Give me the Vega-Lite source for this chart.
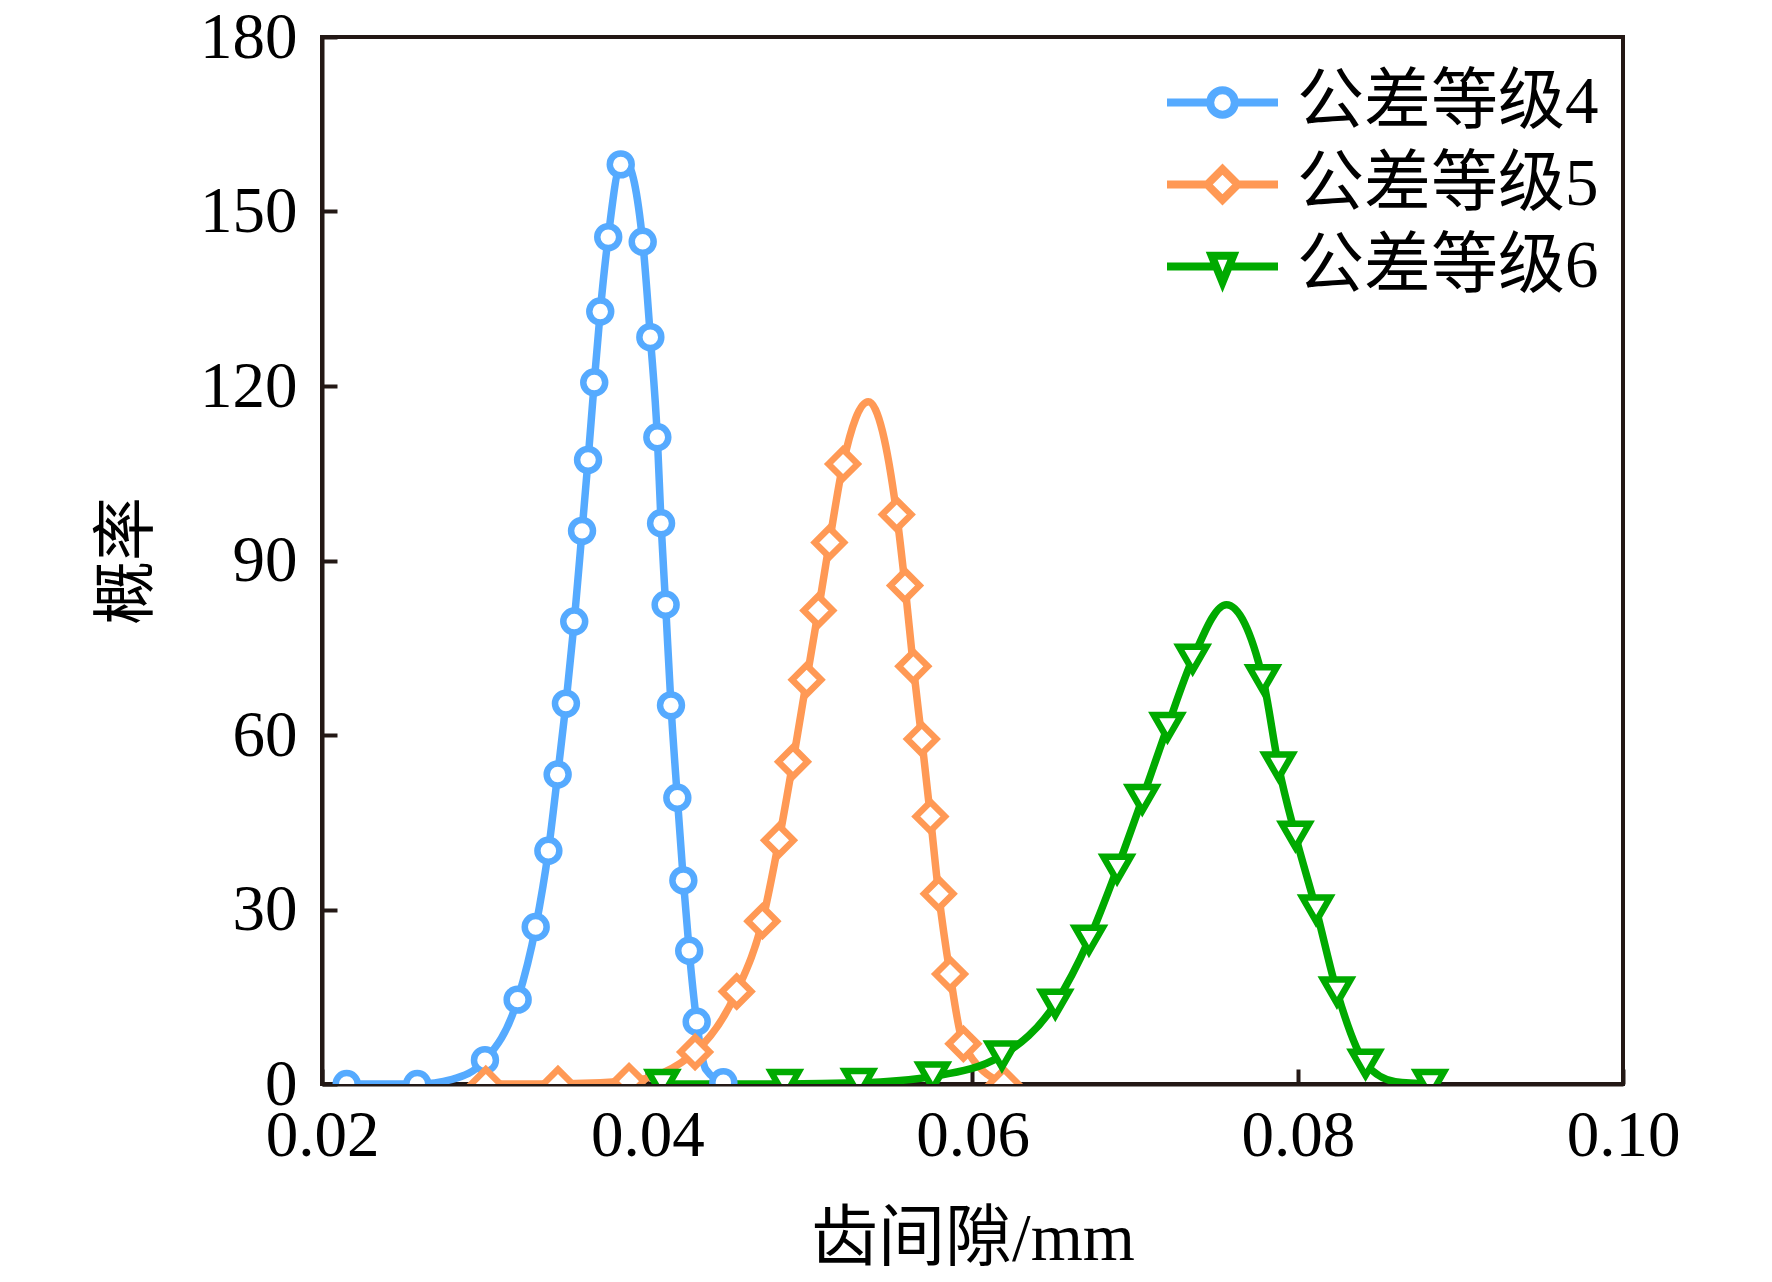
{
  "$schema": "https://vega.github.io/schema/vega-lite/v6.json",
  "autosize": "none",
  "width": 1301,
  "height": 1047,
  "padding": {"left": 322, "top": 37, "right": 149, "bottom": 198},
  "background": "white",
  "config": {
    "view": {"stroke": "#231815", "strokeWidth": 4},
    "font": "Liberation Serif, Noto Sans CJK SC"
  },
  "datasets": {
    "markers": [
      {"series": "公差等级4", "x": 0.02152, "y": 0},
      {"series": "公差等级4", "x": 0.02586, "y": 0},
      {"series": "公差等级4", "x": 0.03002, "y": 4.1},
      {"series": "公差等级4", "x": 0.03203, "y": 14.5},
      {"series": "公差等级4", "x": 0.03314, "y": 27.0},
      {"series": "公差等级4", "x": 0.03392, "y": 40.1},
      {"series": "公差等级4", "x": 0.03449, "y": 53.2},
      {"series": "公差等级4", "x": 0.03500, "y": 65.4},
      {"series": "公差等级4", "x": 0.03551, "y": 79.5},
      {"series": "公差等级4", "x": 0.03599, "y": 95.1},
      {"series": "公差等级4", "x": 0.03636, "y": 107.3},
      {"series": "公差等级4", "x": 0.03674, "y": 120.6},
      {"series": "公差等级4", "x": 0.03711, "y": 132.8},
      {"series": "公差等级4", "x": 0.03760, "y": 145.6},
      {"series": "公差等级4", "x": 0.03837, "y": 158.1},
      {"series": "公差等级4", "x": 0.03972, "y": 144.8},
      {"series": "公差等级4", "x": 0.04019, "y": 128.4},
      {"series": "公差等级4", "x": 0.04062, "y": 111.2},
      {"series": "公差等级4", "x": 0.04085, "y": 96.4},
      {"series": "公差等级4", "x": 0.04113, "y": 82.4},
      {"series": "公差等级4", "x": 0.04146, "y": 65.1},
      {"series": "公差等级4", "x": 0.04185, "y": 49.2},
      {"series": "公差等级4", "x": 0.04222, "y": 35.0},
      {"series": "公差等级4", "x": 0.04258, "y": 22.9},
      {"series": "公差等级4", "x": 0.04304, "y": 10.7},
      {"series": "公差等级4", "x": 0.04468, "y": 0.3},
      {"series": "公差等级5", "x": 0.03007, "y": 0},
      {"series": "公差等级5", "x": 0.03451, "y": 0},
      {"series": "公差等级5", "x": 0.03888, "y": 0.5},
      {"series": "公差等级5", "x": 0.04294, "y": 5.5},
      {"series": "公差等级5", "x": 0.04550, "y": 15.9},
      {"series": "公差等级5", "x": 0.04708, "y": 28.0},
      {"series": "公差等级5", "x": 0.04810, "y": 41.9},
      {"series": "公差等级5", "x": 0.04896, "y": 55.4},
      {"series": "公差等级5", "x": 0.04980, "y": 69.5},
      {"series": "公差等级5", "x": 0.05052, "y": 81.4},
      {"series": "公差等级5", "x": 0.05120, "y": 93.1},
      {"series": "公差等级5", "x": 0.05204, "y": 106.6},
      {"series": "公差等级5", "x": 0.05534, "y": 97.9},
      {"series": "公差等级5", "x": 0.05585, "y": 85.7},
      {"series": "公差等级5", "x": 0.05636, "y": 71.8},
      {"series": "公差等级5", "x": 0.05688, "y": 59.3},
      {"series": "公差等级5", "x": 0.05741, "y": 46.0},
      {"series": "公差等级5", "x": 0.05792, "y": 32.7},
      {"series": "公差等级5", "x": 0.05862, "y": 18.9},
      {"series": "公差等级5", "x": 0.05944, "y": 6.9},
      {"series": "公差等级5", "x": 0.06193, "y": 0},
      {"series": "公差等级6", "x": 0.04093, "y": 0},
      {"series": "公差等级6", "x": 0.04846, "y": 0},
      {"series": "公差等级6", "x": 0.05301, "y": 0.2},
      {"series": "公差等级6", "x": 0.05756, "y": 1.3},
      {"series": "公差等级6", "x": 0.06181, "y": 4.9},
      {"series": "公差等级6", "x": 0.06509, "y": 13.8},
      {"series": "公差等级6", "x": 0.06716, "y": 24.8},
      {"series": "公差等级6", "x": 0.06889, "y": 37.0},
      {"series": "公差等级6", "x": 0.07044, "y": 49.0},
      {"series": "公差等级6", "x": 0.07199, "y": 61.4},
      {"series": "公差等级6", "x": 0.07354, "y": 73.1},
      {"series": "公差等级6", "x": 0.07786, "y": 69.6},
      {"series": "公差等级6", "x": 0.07882, "y": 54.6},
      {"series": "公差等级6", "x": 0.07986, "y": 42.7},
      {"series": "公差等级6", "x": 0.08113, "y": 30.0},
      {"series": "公差等级6", "x": 0.08241, "y": 15.9},
      {"series": "公差等级6", "x": 0.08417, "y": 3.5},
      {"series": "公差等级6", "x": 0.08814, "y": 0}
    ],
    "curve": [
      {"series": "公差等级4", "x": 0.02152, "y": 0},
      {"series": "公差等级4", "x": 0.02586, "y": 0},
      {"series": "公差等级4", "x": 0.02800, "y": 0.8},
      {"series": "公差等级4", "x": 0.03002, "y": 4.1},
      {"series": "公差等级4", "x": 0.03203, "y": 14.5},
      {"series": "公差等级4", "x": 0.03314, "y": 27.0},
      {"series": "公差等级4", "x": 0.03392, "y": 40.1},
      {"series": "公差等级4", "x": 0.03449, "y": 53.2},
      {"series": "公差等级4", "x": 0.03500, "y": 65.4},
      {"series": "公差等级4", "x": 0.03551, "y": 79.5},
      {"series": "公差等级4", "x": 0.03599, "y": 95.1},
      {"series": "公差等级4", "x": 0.03636, "y": 107.3},
      {"series": "公差等级4", "x": 0.03674, "y": 120.6},
      {"series": "公差等级4", "x": 0.03711, "y": 132.8},
      {"series": "公差等级4", "x": 0.03760, "y": 145.6},
      {"series": "公差等级4", "x": 0.03837, "y": 158.1},
      {"series": "公差等级4", "x": 0.03870, "y": 158.3},
      {"series": "公差等级4", "x": 0.03972, "y": 144.8},
      {"series": "公差等级4", "x": 0.04019, "y": 128.4},
      {"series": "公差等级4", "x": 0.04062, "y": 111.2},
      {"series": "公差等级4", "x": 0.04085, "y": 96.4},
      {"series": "公差等级4", "x": 0.04113, "y": 82.4},
      {"series": "公差等级4", "x": 0.04146, "y": 65.1},
      {"series": "公差等级4", "x": 0.04185, "y": 49.2},
      {"series": "公差等级4", "x": 0.04222, "y": 35.0},
      {"series": "公差等级4", "x": 0.04258, "y": 22.9},
      {"series": "公差等级4", "x": 0.04304, "y": 10.7},
      {"series": "公差等级4", "x": 0.04360, "y": 2.5},
      {"series": "公差等级4", "x": 0.04468, "y": 0.3},
      {"series": "公差等级5", "x": 0.03007, "y": 0},
      {"series": "公差等级5", "x": 0.03451, "y": 0},
      {"series": "公差等级5", "x": 0.03888, "y": 0.5},
      {"series": "公差等级5", "x": 0.04294, "y": 5.5},
      {"series": "公差等级5", "x": 0.04550, "y": 15.9},
      {"series": "公差等级5", "x": 0.04708, "y": 28.0},
      {"series": "公差等级5", "x": 0.04810, "y": 41.9},
      {"series": "公差等级5", "x": 0.04896, "y": 55.4},
      {"series": "公差等级5", "x": 0.04980, "y": 69.5},
      {"series": "公差等级5", "x": 0.05052, "y": 81.4},
      {"series": "公差等级5", "x": 0.05120, "y": 93.1},
      {"series": "公差等级5", "x": 0.05204, "y": 106.6},
      {"series": "公差等级5", "x": 0.05359, "y": 117.3},
      {"series": "公差等级5", "x": 0.05534, "y": 97.9},
      {"series": "公差等级5", "x": 0.05585, "y": 85.7},
      {"series": "公差等级5", "x": 0.05636, "y": 71.8},
      {"series": "公差等级5", "x": 0.05688, "y": 59.3},
      {"series": "公差等级5", "x": 0.05741, "y": 46.0},
      {"series": "公差等级5", "x": 0.05792, "y": 32.7},
      {"series": "公差等级5", "x": 0.05862, "y": 18.9},
      {"series": "公差等级5", "x": 0.05944, "y": 6.9},
      {"series": "公差等级5", "x": 0.06193, "y": 0},
      {"series": "公差等级6", "x": 0.04093, "y": 0},
      {"series": "公差等级6", "x": 0.04846, "y": 0},
      {"series": "公差等级6", "x": 0.05301, "y": 0.2},
      {"series": "公差等级6", "x": 0.05756, "y": 1.3},
      {"series": "公差等级6", "x": 0.06181, "y": 4.9},
      {"series": "公差等级6", "x": 0.06509, "y": 13.8},
      {"series": "公差等级6", "x": 0.06716, "y": 24.8},
      {"series": "公差等级6", "x": 0.06889, "y": 37.0},
      {"series": "公差等级6", "x": 0.07044, "y": 49.0},
      {"series": "公差等级6", "x": 0.07199, "y": 61.4},
      {"series": "公差等级6", "x": 0.07354, "y": 73.1},
      {"series": "公差等级6", "x": 0.07561, "y": 82.4},
      {"series": "公差等级6", "x": 0.07786, "y": 69.6},
      {"series": "公差等级6", "x": 0.07882, "y": 54.6},
      {"series": "公差等级6", "x": 0.07986, "y": 42.7},
      {"series": "公差等级6", "x": 0.08113, "y": 30.0},
      {"series": "公差等级6", "x": 0.08241, "y": 15.9},
      {"series": "公差等级6", "x": 0.08417, "y": 3.5},
      {"series": "公差等级6", "x": 0.08600, "y": 0.4},
      {"series": "公差等级6", "x": 0.08814, "y": 0}
    ]
  },
  "encoding": {
    "x": {
      "field": "x", "type": "quantitative",
      "scale": {"domain": [0.02, 0.1], "nice": false, "zero": false},
      "axis": {
        "values": [0.02, 0.04, 0.06, 0.08, 0.1], "format": ".2f",
        "title": "齿间隙/mm", "grid": false,
        "domainColor": "#231815", "domainWidth": 4,
        "tickColor": "#231815", "tickWidth": 4, "tickSize": -15,
        "labelFont": "Liberation Serif", "labelFontSize": 65, "labelColor": "black",
        "labelPadding": 35, "labelFlush": false, "labelOverlap": false,
        "titleFont": "Liberation Serif, Noto Sans CJK SC", "titleFontSize": 67,
        "titleFontWeight": "normal", "titleColor": "black", "titlePadding": 38
      }
    },
    "y": {
      "field": "y", "type": "quantitative",
      "scale": {"domain": [0, 180], "nice": false},
      "axis": {
        "values": [0, 30, 60, 90, 120, 150, 180], "format": "d",
        "title": "概率", "grid": false,
        "domainColor": "#231815", "domainWidth": 4,
        "tickColor": "#231815", "tickWidth": 4, "tickSize": -15,
        "labelFont": "Liberation Serif", "labelFontSize": 65, "labelColor": "black",
        "labelPadding": 40, "labelFlush": false, "labelOverlap": false,
        "titleFont": "Noto Sans CJK SC", "titleFontSize": 64,
        "titleFontWeight": "normal", "titleColor": "black", "titlePadding": 40
      }
    },
    "color": {
      "field": "series", "type": "nominal",
      "scale": {"domain": ["公差等级4", "公差等级5", "公差等级6"], "range": ["#55AAFF", "#FF9955", "#00AA00"]},
      "legend": {
        "title": null, "orient": "none", "legendX": 867, "legendY": 32,
        "padding": 0, "labelFont": "Liberation Serif, Noto Sans CJK SC", "labelFontSize": 67,
        "labelColor": "black", "labelLimit": 0, "labelOffset": 41,
        "symbolSize": 900, "rowPadding": 14, "symbolStrokeWidth": 8,
        "symbolFillColor": "white", "symbolOpacity": 1,
        "symbolType": {"expr": "datum.value === '公差等级4' ? 'M-3.7,0H-0.82M0.82,0H3.7M0.82,0A0.82,0.82,0,1,1,-0.82,0A0.82,0.82,0,1,1,0.82,0Z' : datum.value === '公差等级5' ? 'M-3.7,0H-1.02M1.02,0H3.7M-1.02,0L0,-1.02L1.02,0L0,1.02Z' : 'M-3.7,0H-0.4M0.4,0H3.7M-0.72,-0.72L0.72,-0.72L0,1.05Z'"}
      }
    }
  },
  "layer": [
    {
      "data": {"name": "curve"},
      "mark": {"type": "line", "interpolate": "monotone", "strokeWidth": 7.5, "clip": true}
    },
    {
      "data": {"name": "markers"},
      "transform": [{"filter": "datum.series === '公差等级4'"}],
      "mark": {"type": "point", "shape": "circle", "size": 480, "filled": false, "fill": "white", "fillOpacity": 1, "opacity": 1, "strokeWidth": 6.5, "clip": true}
    },
    {
      "data": {"name": "markers"},
      "transform": [{"filter": "datum.series === '公差等级5'"}],
      "mark": {"type": "point", "shape": "diamond", "size": 850, "filled": false, "fill": "white", "fillOpacity": 1, "opacity": 1, "strokeWidth": 6.5, "clip": true}
    },
    {
      "data": {"name": "markers"},
      "transform": [{"filter": "datum.series === '公差等级6'"}],
      "mark": {"type": "point", "shape": "triangle-down", "size": 760, "filled": false, "fill": "white", "fillOpacity": 1, "opacity": 1, "strokeWidth": 6.5, "clip": true}
    }
  ]
}
